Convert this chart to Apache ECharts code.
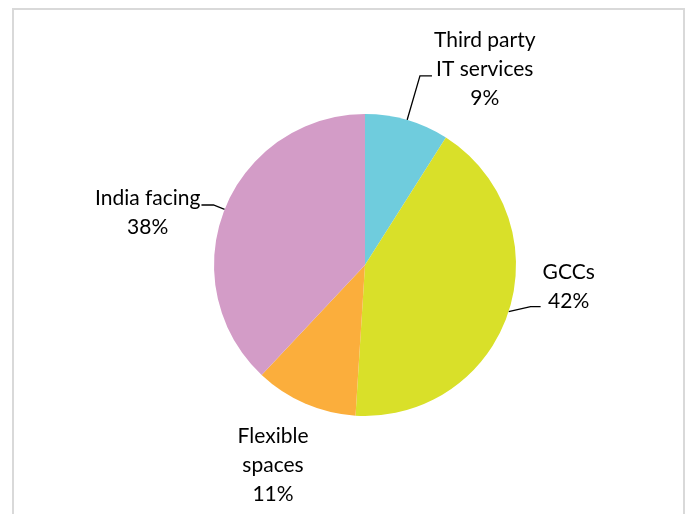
<!DOCTYPE html>
<html>
<head>
<meta charset="utf-8">
<script src="https://cdn.jsdelivr.net/npm/echarts@6/dist/echarts.min.js"></script>
<style>
  html, body { margin: 0; padding: 0; background: #fff; }
  #chart { width: 688px; height: 514px; }
</style>
</head>
<body>
<div id="chart"></div>
<script>
const categories = ['Third party\nIT services', 'GCCs', 'Flexible\nspaces', 'India facing']
const shares = [9, 42, 11, 38]
const colors = ['#6fccdd', '#d9e029', '#fbae3c', '#d39cc7']

// per-slice leader line lengths and label nudges (px)
const lineLen = [46, 26, 10, 12]
const lineLen2 = [12, 8, 0, 12]
const labelDy = [-7, -20, 62, 8]
const lineShown = [true, true, false, true]

const chart = echarts.init(document.getElementById('chart'))

chart.setOption({
  animation: false,
  graphic: [
    {
      type: 'rect',
      shape: { x: 13, y: 9, width: 671, height: 530 },
      style: { fill: 'none', stroke: '#d9d9d9', lineWidth: 2 },
      silent: true
    }
  ],
  series: [
    {
      type: 'pie',
      center: [365, 265],
      radius: 151,
      startAngle: 90,
      clockwise: true,
      avoidLabelOverlap: false,
      itemStyle: { borderWidth: 0 },
      label: {
        show: true,
        position: 'outside',
        formatter: (p) => p.name + '\n' + p.value + '%',
        fontFamily: 'Lato',
        fontSize: 21,
        lineHeight: 29,
        color: '#000',
        align: 'center'
      },
      labelLine: {
        show: true,
        lineStyle: { color: '#000', width: 1.3 }
      },
      labelLayout: (params) => {
        const i = params.dataIndex
        let pts = params.labelLinePoints
        if (i === 1) {
          // GCCs leader bends slightly upward, like the original
          const s = pts[0]
          pts = [s, [s[0] + 22, s[1] - 5], [s[0] + 32, s[1] - 5]]
        }
        const end = pts[pts.length - 1]
        const w = params.labelRect.width
        const onRight = end[0] >= 365
        let x
        if (i === 2) {
          x = pts[0][0] - 32
        } else {
          x = onRight ? end[0] + 2 + w / 2 : end[0] - 1 - w / 2
        }
        const y = (i === 2 ? pts[0][1] : end[1]) + labelDy[i]
        return {
          x: x,
          y: y,
          align: 'center',
          verticalAlign: 'middle',
          labelLinePoints: pts
        }
      },
      data: categories.map((name, i) => ({
        name: name,
        value: shares[i],
        itemStyle: { color: colors[i] },
        labelLine: {
          show: true,
          length: lineLen[i],
          length2: lineLen2[i],
          lineStyle: { opacity: lineShown[i] ? 1 : 0 }
        }
      }))
    }
  ]
})
</script>
</body>
</html>
